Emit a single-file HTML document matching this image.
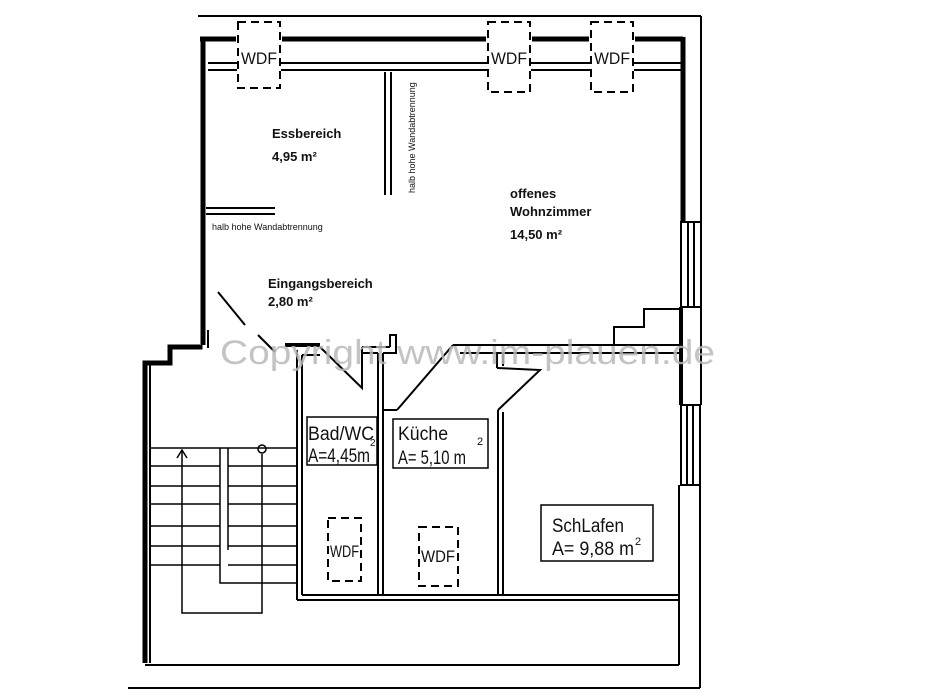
<!DOCTYPE html>
<html><head><meta charset="utf-8"><style>
html,body{margin:0;padding:0;background:#fff;}
svg{display:block;}
.b{font-family:"Liberation Sans",sans-serif;font-weight:bold;font-size:13px;fill:#111;}
.s{font-family:"Liberation Sans",sans-serif;font-size:9px;fill:#111;}
.h{font-family:"Liberation Sans",sans-serif;font-size:19px;fill:#111;}
</style></head><body>
<svg width="933" height="700" viewBox="0 0 933 700" xmlns="http://www.w3.org/2000/svg">
<g fill="none" stroke="#000" stroke-width="2">
<line x1="198" y1="16" x2="701" y2="16"/>
<line x1="701" y1="16" x2="701" y2="222"/>
<g stroke-width="5">
<line x1="200" y1="39" x2="236" y2="39"/>
<line x1="282" y1="39" x2="486" y2="39"/>
<line x1="532" y1="39" x2="589" y2="39"/>
<line x1="635" y1="39" x2="683" y2="39"/>
<line x1="683" y1="37" x2="683" y2="222"/>
<line x1="203" y1="37" x2="203" y2="345"/>
</g>
<line x1="208" y1="63" x2="237" y2="63"/><line x1="208" y1="70" x2="237" y2="70"/>
<line x1="281" y1="63" x2="487" y2="63"/><line x1="281" y1="70" x2="487" y2="70"/>
<line x1="531" y1="63" x2="590" y2="63"/><line x1="531" y1="70" x2="590" y2="70"/>
<line x1="634" y1="63" x2="681" y2="63"/><line x1="634" y1="70" x2="681" y2="70"/>
<line x1="385" y1="72" x2="385" y2="195"/><line x1="391" y1="72" x2="391" y2="195"/>
<line x1="206" y1="208" x2="275" y2="208"/><line x1="206" y1="214" x2="275" y2="214"/>
<rect x="681" y="222" width="20" height="85"/>
<line x1="688" y1="222" x2="688" y2="307"/><line x1="694" y1="222" x2="694" y2="307"/>
<rect x="681" y="405" width="19" height="80"/>
<line x1="687" y1="405" x2="687" y2="485"/><line x1="693" y1="405" x2="693" y2="485"/>
<line x1="701" y1="307" x2="701" y2="405"/>
<line x1="681" y1="307" x2="681" y2="405" stroke-width="4"/>
<line x1="679" y1="485" x2="679" y2="665"/>
<line x1="700" y1="485" x2="700" y2="688"/>
<polyline points="680,309 644,309 644,327 614,327 614,345"/>
<line x1="453" y1="345" x2="680" y2="345"/><line x1="460" y1="353" x2="680" y2="353"/>
<line x1="497" y1="353" x2="497" y2="368"/><line x1="503" y1="353" x2="503" y2="366"/>
<polyline points="497,368 540,370 498,410"/>
<line x1="498" y1="410" x2="498" y2="595"/><line x1="503" y1="412" x2="503" y2="595"/>
<line x1="453" y1="345" x2="397" y2="410"/>
<line x1="383" y1="353" x2="383" y2="410"/>
<line x1="397" y1="410" x2="383" y2="410"/>
<line x1="362" y1="347" x2="390" y2="347"/><line x1="362" y1="353" x2="378" y2="353"/>
<polyline points="390,347 390,335 396,335 396,353 383,353"/>
<line x1="378" y1="353" x2="378" y2="595"/><line x1="383" y1="410" x2="383" y2="595"/>
<polyline points="320,347 362,388 362,347"/>
<line x1="285" y1="345" x2="320" y2="345" stroke-width="4"/>
<line x1="297" y1="350" x2="297" y2="600"/><line x1="302" y1="355" x2="302" y2="595"/>
<line x1="302" y1="355" x2="320" y2="355"/>
<line x1="302" y1="595" x2="680" y2="595"/><line x1="297" y1="600" x2="680" y2="600"/>
<line x1="145" y1="665" x2="679" y2="665"/>
<line x1="128" y1="688" x2="700" y2="688"/>
<line x1="218" y1="292" x2="245" y2="325"/>
<line x1="258" y1="335" x2="275" y2="352"/>
<line x1="208" y1="330" x2="208" y2="348"/>
<polyline points="145,663 145,363 170,363 170,347 200,347 200,345" stroke-width="5"/>
<line x1="150" y1="365" x2="150" y2="663"/>
<g stroke-width="1.5">
<line x1="150" y1="448" x2="297" y2="448"/>
<line x1="150" y1="466" x2="220" y2="466"/><line x1="228" y1="466" x2="297" y2="466"/>
<line x1="150" y1="486" x2="220" y2="486"/><line x1="228" y1="486" x2="297" y2="486"/>
<line x1="150" y1="504" x2="220" y2="504"/><line x1="228" y1="504" x2="297" y2="504"/>
<line x1="150" y1="526" x2="220" y2="526"/><line x1="228" y1="526" x2="297" y2="526"/>
<line x1="150" y1="546" x2="220" y2="546"/><line x1="228" y1="546" x2="297" y2="546"/>
<line x1="150" y1="565" x2="220" y2="565"/><line x1="228" y1="565" x2="297" y2="565"/>
<polyline points="220,448 220,583 297,583"/>
<line x1="228" y1="448" x2="228" y2="550"/>
<polyline points="182,450 182,613 262,613 262,454"/>
<polyline points="177,458 182,450 187,458"/>
<circle cx="262" cy="449" r="4"/>
</g>
<g stroke-width="2" stroke-dasharray="8,5">
<rect x="238" y="22" width="42" height="66"/>
<rect x="488" y="22" width="42" height="70"/>
<rect x="591" y="22" width="42" height="70"/>
<rect x="328" y="518" width="33" height="63"/>
<rect x="419" y="527" width="39" height="59"/>
</g>
<rect x="307" y="417" width="70" height="48" stroke-width="1.5"/>
<rect x="393" y="419" width="95" height="49" stroke-width="1.5"/>
<rect x="541" y="505" width="112" height="56" stroke-width="1.5"/>
</g>
<g class="h">
<text x="241" y="64" font-size="17" textLength="36" lengthAdjust="spacingAndGlyphs">WDF</text>
<text x="491" y="64" font-size="17" textLength="36" lengthAdjust="spacingAndGlyphs">WDF</text>
<text x="594" y="64" font-size="17" textLength="36" lengthAdjust="spacingAndGlyphs">WDF</text>
<text x="330" y="557" font-size="17" textLength="29" lengthAdjust="spacingAndGlyphs">WDF</text>
<text x="421" y="562" font-size="17" textLength="34" lengthAdjust="spacingAndGlyphs">WDF</text>
<text x="308" y="440" textLength="66" lengthAdjust="spacingAndGlyphs">Bad/WC</text>
<text x="308" y="462" textLength="62" lengthAdjust="spacingAndGlyphs">A=4,45m</text>
<text x="370" y="446" font-size="10">2</text>
<text x="398" y="440" textLength="50" lengthAdjust="spacingAndGlyphs">Küche</text>
<text x="398" y="464" textLength="68" lengthAdjust="spacingAndGlyphs">A= 5,10 m</text>
<text x="477" y="445" font-size="11">2</text>
<text x="552" y="532" textLength="72" lengthAdjust="spacingAndGlyphs">SchLafen</text>
<text x="552" y="555" textLength="82" lengthAdjust="spacingAndGlyphs">A= 9,88 m</text>
<text x="635" y="545" font-size="11">2</text>
</g>
<text class="b" x="272" y="138">Essbereich</text>
<text class="b" x="272" y="161">4,95 m²</text>
<text class="b" x="510" y="198">offenes</text>
<text class="b" x="510" y="216">Wohnzimmer</text>
<text class="b" x="510" y="239">14,50 m²</text>
<text class="b" x="268" y="288">Eingangsbereich</text>
<text class="b" x="268" y="306">2,80 m²</text>
<text class="s" x="212" y="230">halb hohe Wandabtrennung</text>
<text class="s" transform="translate(415,193) rotate(-90)">halb hohe Wandabtrennung</text>
<text x="220" y="364" font-family="Liberation Sans,sans-serif" font-size="34" fill="#b8b8b8" fill-opacity="0.85" textLength="495" lengthAdjust="spacingAndGlyphs">Copyright www.im-plauen.de</text>
</svg>
</body></html>
